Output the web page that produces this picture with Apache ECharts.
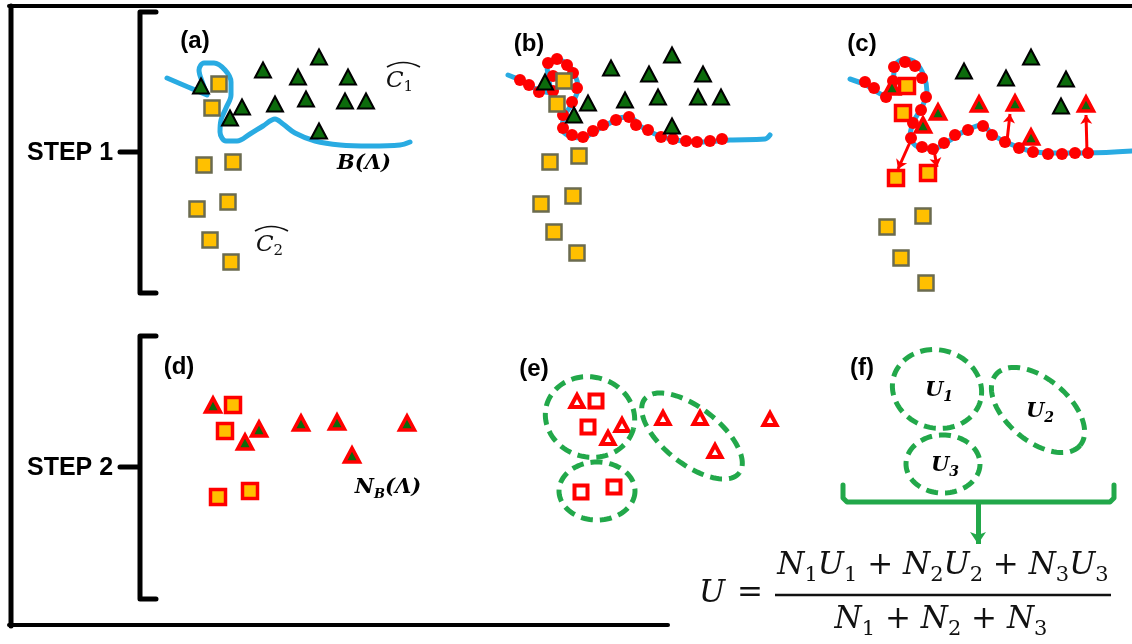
<!DOCTYPE html>
<html>
<head>
<meta charset="utf-8">
<script src="https://cdn.jsdelivr.net/npm/echarts@6/dist/echarts.min.js"></script>
<style>
  html, body { margin: 0; padding: 0; background: #ffffff; }
  #chart { width: 1132px; height: 644px; }
</style>
</head>
<body>
<div id="chart"></div>
<script>
// Canvas extent in data units (1 unit = 1 px, y grows downward)
const W = 1132, H = 644;

// ---- STEP 1 (a): two classes and the decision boundary B(Λ)
const aClass1 = [[201,86],[263,70],[298,77],[319,57],[348,77],[242,107],[275,104],[306,99],[345,101],[366,101],[230,118],[319,131]];
const aClass2 = [[219,84],[212,108],[204,165],[233,162],[197,209],[228,202],[210,240],[231,262]];
const aBoundary = [[167,78],[188,87],[207,95],[203,84],[199,70],[204,63],[214,63],[225,70],[231,82],[231,95],[226,108],[221,120],[220,132],[226,141],[237,141],[250,134],[263,126],[275,119],[283,124],[295,133],[315,141],[340,145],[370,146],[400,145],[410,142]];

// ---- STEP 1 (b): boundary sampled with nodes
const bClass1 = [[545,82],[611,68],[649,74],[672,55],[703,74],[588,103],[625,100],[658,97],[698,97],[721,97],[574,115],[672,126]];
const bClass2 = [[564,81],[557,104],[550,162],[579,156],[541,204],[573,196],[554,232],[577,253]];
const bBoundary = [[508,75],[522,81],[538,90],[551,93],[549,80],[547,66],[556,59],[567,64],[575,75],[578,88],[573,102],[565,115],[562,128],[569,136],[582,138],[595,131],[608,124],[620,118],[630,117],[640,126],[655,134],[675,140],[700,142],[730,140],[765,139],[770,135]];
const bNodes = [[520,80],[529,85],[539,92],[548,63],[557,59],[567,65],[573,73],[577,88],[553,76],[553,91],[572,102],[563,115],[563,128],[572,135],[583,137],[593,131],[603,125],[616,120],[629,117],[636,125],[648,130],[661,137],[673,139],[686,141],[697,142],[710,141],[722,139]];

// ---- STEP 1 (c): nearest samples of every node
const cClass1Far = [[964,71],[1006,78],[1031,57],[1066,79],[1061,106]];
const cClass1Near = [[892,87],[938,112],[923,125],[979,104],[1015,103],[1031,137],[1086,104]];
const cClass2Near = [[907,86],[903,113],[896,178],[928,173]];
const cClass2Far = [[887,227],[923,216],[901,258],[926,283]];
const cBoundary = [[850,79],[866,85],[884,95],[893,80],[895,65],[905,59],[916,63],[924,76],[927,92],[922,107],[914,121],[910,136],[918,147],[933,149],[947,142],[963,132],[982,125],[993,135],[1008,143],[1030,151],[1053,153],[1087,153],[1132,151]];
const cNodes = [[865,82],[874,88],[886,97],[893,81],[894,67],[905,62],[915,66],[922,78],[926,97],[921,110],[913,123],[911,138],[922,147],[933,149],[944,143],[955,135],[968,130],[983,126],[992,135],[1005,142],[1019,148],[1033,152],[1048,154],[1062,154],[1075,153],[1088,153]];
const cLinks = [[[911,140],[898,169]],[[934,150],[937,167]],[[1007,141],[1010,114]],[[1087,152],[1086,115]]];

// ---- STEP 2 (d): boundary neighbourhood N_B(Λ)
const dClass1 = [[213,405],[259,429],[245,442],[301,423],[337,422],[352,455],[407,423]];
const dClass2 = [[233,405],[225,431],[218,497],[250,491]];

// ---- STEP 2 (e): clustered neighbourhood, ellipse = [cx, cy, rx, ry, tilt°]
const eClass1 = [[577,401],[622,425],[608,438],[663,418],[700,418],[715,451],[770,419]];
const eClass2 = [[596,401],[588,427],[581,492],[614,487]];
const eClusters = [[590,417,45,40,15],[692,436,60,28,38],[597,491,38,29,0]];

// ---- STEP 2 (f): per-cluster uncertainties U1..U3
const fClusters = [[937,389,45,39,15],[1038,410,55,31,40],[943,464,37,29,0]];
const fIndex = ['1','2','3'];

const RED = '#ff0000', GREEN = '#0c6b0c', GOLD = '#ffc000', OLIVE = '#6b6b4f',
      BLUE = '#29abe2', CLUSTER = '#22a84a', INK = '#000000';

function path(points, color, width, z, extra) {
  return Object.assign({
    type: 'line', data: points, symbol: 'none', silent: true, z: z,
    lineStyle: { color: color, width: width, cap: 'round', join: 'round' }
  }, extra || {});
}
function marks(points, symbol, size, fill, stroke, bw, z) {
  return {
    type: 'scatter', data: points, symbol: symbol, symbolSize: size, silent: true, z: z,
    itemStyle: { color: fill, borderColor: stroke, borderWidth: bw, opacity: 1 }
  };
}
function arrows(links, color, width, size, z) {
  return {
    type: 'lines', coordinateSystem: 'cartesian2d', silent: true, z: z,
    symbol: ['none', 'arrow'], symbolSize: size,
    lineStyle: { color: color, width: width, opacity: 1 },
    data: links.map(l => ({ coords: l }))
  };
}
function ellipsePoints(api, cx, cy, rx, ry, deg) {
  const a = deg * Math.PI / 180, pts = [];
  for (let i = 0; i <= 96; i++) {
    const t = i / 96 * Math.PI * 2;
    const x = cx + rx * Math.cos(t) * Math.cos(a) - ry * Math.sin(t) * Math.sin(a);
    const y = cy + rx * Math.cos(t) * Math.sin(a) + ry * Math.sin(t) * Math.cos(a);
    pts.push(api.coord([x, y]));
  }
  return pts;
}
const dashStyle = { stroke: CLUSTER, lineWidth: 5, lineDash: [12, 7], fill: null, lineCap: 'butt' };

const uRich = {
  u: { fontFamily: 'DejaVu Serif', fontStyle: 'italic', fontWeight: 'bold', fontSize: 21, lineHeight: 26, fill: INK },
  s: { fontFamily: 'DejaVu Serif', fontStyle: 'italic', fontWeight: 'bold', fontSize: 14, lineHeight: 12, verticalAlign: 'bottom', fill: INK }
};

const series = [
  // frame and step brackets
  path([[9,6],[W,6]], INK, 4, 1),
  path([[11,6],[11,626]], INK, 5, 1),
  path([[9,625],[668,625]], INK, 4, 1),
  path([[156,12],[140,12],[140,293],[156,293]], INK, 5, 1),
  path([[120,152],[138,152]], INK, 5, 1),
  path([[156,336],[140,336],[140,599],[156,599]], INK, 5, 1),
  path([[120,467],[138,467]], INK, 5, 1),

  // (a)
  path(aBoundary, BLUE, 5, 2, { smooth: 0.35 }),
  marks(aClass2, 'rect', 15, GOLD, OLIVE, 2.5, 4),
  marks(aClass1, 'triangle', [16, 15], GREEN, INK, 2, 4),

  // (b)
  path(bBoundary, BLUE, 5, 2, { smooth: 0.35 }),
  marks(bNodes, 'circle', 12, RED, RED, 0, 3),
  marks(bClass2, 'rect', 15, GOLD, OLIVE, 2.5, 4),
  marks(bClass1, 'triangle', [16, 15], GREEN, INK, 2, 4),

  // (c)
  path(cBoundary, BLUE, 5, 2, { smooth: 0.35 }),
  marks(cNodes, 'circle', 12, RED, RED, 0, 3),
  arrows(cLinks, RED, 3, 9, 3),
  marks(cClass2Far, 'rect', 15, GOLD, OLIVE, 2.5, 4),
  marks(cClass2Near, 'rect', 15, GOLD, RED, 3.5, 4),
  marks(cClass1Far, 'triangle', [16, 15], GREEN, INK, 2, 4),
  marks(cClass1Near, 'triangle', [15, 14], GREEN, RED, 3.5, 4),

  // (d)
  marks(dClass2, 'rect', 15, GOLD, RED, 3.5, 4),
  marks(dClass1, 'triangle', [15, 14], GREEN, RED, 3.5, 4),

  // (e)
  marks(eClass2, 'rect', 13, '#ffffff', RED, 4, 4),
  marks(eClass1, 'triangle', [13, 12], '#ffffff', RED, 4, 4),
  {
    type: 'custom', data: eClusters, silent: true, z: 5,
    renderItem: (params, api) => ({
      type: 'polyline',
      shape: { points: ellipsePoints(api, api.value(0), api.value(1), api.value(2), api.value(3), api.value(4)) },
      style: dashStyle
    })
  },

  // (f)
  {
    type: 'custom', data: fClusters, silent: true, z: 5,
    renderItem: (params, api) => {
      const c = api.coord([api.value(0), api.value(1)]);
      return {
        type: 'group',
        children: [
          { type: 'polyline',
            shape: { points: ellipsePoints(api, api.value(0), api.value(1), api.value(2), api.value(3), api.value(4)) },
            style: dashStyle },
          { type: 'text', x: c[0] + 2, y: c[1] + 2,
            style: { text: '{u|U}{s|' + fIndex[params.dataIndex] + '}', rich: uRich, align: 'center', verticalAlign: 'middle' } }
        ]
      };
    }
  },
  path([[843,485],[843,498],[847,502],[1110,502],[1114,498],[1114,485]], CLUSTER, 5, 5),
  arrows([[[978,502],[978,544]]], CLUSTER, 5, 12, 5)
];

// text pieces
const stepFont = { fontFamily: 'Liberation Sans', fontWeight: 'bold', fontSize: 25, fill: INK };
function label(x, y, text, style, align) {
  return { type: 'text', x: x, y: y, z: 20, silent: true,
    style: Object.assign({ text: text, align: align || 'center', verticalAlign: 'middle' }, style) };
}
const panelFont = { fontFamily: 'Liberation Sans', fontWeight: 'bold', fontSize: 24, fill: INK };
const mathRich = {
  i: { fontFamily: 'DejaVu Serif', fontStyle: 'italic', fontSize: 31, lineHeight: 40, fill: '#111' },
  o: { fontFamily: 'DejaVu Serif', fontSize: 31, lineHeight: 40, fill: '#111' },
  s: { fontFamily: 'DejaVu Serif', fontSize: 21, lineHeight: 18, verticalAlign: 'bottom', fill: '#111' }
};
const hatRich = {
  c: { fontFamily: 'DejaVu Serif', fontStyle: 'italic', fontSize: 23, lineHeight: 28, fill: '#111' },
  s: { fontFamily: 'DejaVu Serif', fontSize: 15, lineHeight: 14, verticalAlign: 'bottom', fill: '#111' }
};
const boldMath = {
  b: { fontFamily: 'DejaVu Serif', fontStyle: 'italic', fontWeight: 'bold', fontSize: 21, lineHeight: 26, fill: INK },
  s: { fontFamily: 'DejaVu Serif', fontStyle: 'italic', fontWeight: 'bold', fontSize: 13, lineHeight: 12, verticalAlign: 'bottom', fill: INK }
};
const numer = fIndex.map(k => '{i|N}{s|' + k + '}{i|U}{s|' + k + '}').join('{o| + }');
const denom = fIndex.map(k => '{i|N}{s|' + k + '}').join('{o| + }');

const graphics = [
  label(27, 153, 'STEP 1', stepFont, 'left'),
  label(27, 468, 'STEP 2', stepFont, 'left'),
  label(195, 41, '(a)', panelFont),
  label(529, 44, '(b)', panelFont),
  label(862, 44, '(c)', panelFont),
  label(179, 367, '(d)', panelFont),
  label(534, 369, '(e)', panelFont),
  label(862, 368, '(f)', panelFont),
  label(386, 81, '{c|C}{s|1}', { rich: hatRich }, 'left'),
  label(256, 245, '{c|C}{s|2}', { rich: hatRich }, 'left'),
  { type: 'bezierCurve', z: 20, silent: true,
    shape: { x1: 387, y1: 67, x2: 420, y2: 67, cpx1: 403, cpy1: 58 },
    style: { stroke: '#111', lineWidth: 1.7, fill: null } },
  { type: 'bezierCurve', z: 20, silent: true,
    shape: { x1: 255, y1: 231, x2: 288, y2: 231, cpx1: 271, cpy1: 222 },
    style: { stroke: '#111', lineWidth: 1.7, fill: null } },
  label(364, 164, '{b|B(Λ)}', { rich: boldMath }),
  label(388, 488, '{b|N}{s|B}{b|(Λ)}', { rich: boldMath }),
  label(712, 594, '{i|U}', { rich: mathRich }),
  label(750, 594, '{o|=}', { rich: mathRich }),
  label(943, 566, numer, { rich: mathRich }),
  { type: 'line', z: 20, silent: true,
    shape: { x1: 775, y1: 595, x2: 1111, y2: 595 },
    style: { stroke: '#111', lineWidth: 2.5 } },
  label(941, 620, denom, { rich: mathRich })
];

const chart = echarts.init(document.getElementById('chart'), null, { renderer: 'canvas' });
chart.setOption({
  backgroundColor: '#ffffff',
  animation: false,
  grid: { left: 0, right: 0, top: 0, bottom: 0 },
  xAxis: { type: 'value', min: 0, max: W, show: false },
  yAxis: { type: 'value', min: 0, max: H, inverse: true, show: false },
  series: series,
  graphic: graphics
});
</script>
</body>
</html>
